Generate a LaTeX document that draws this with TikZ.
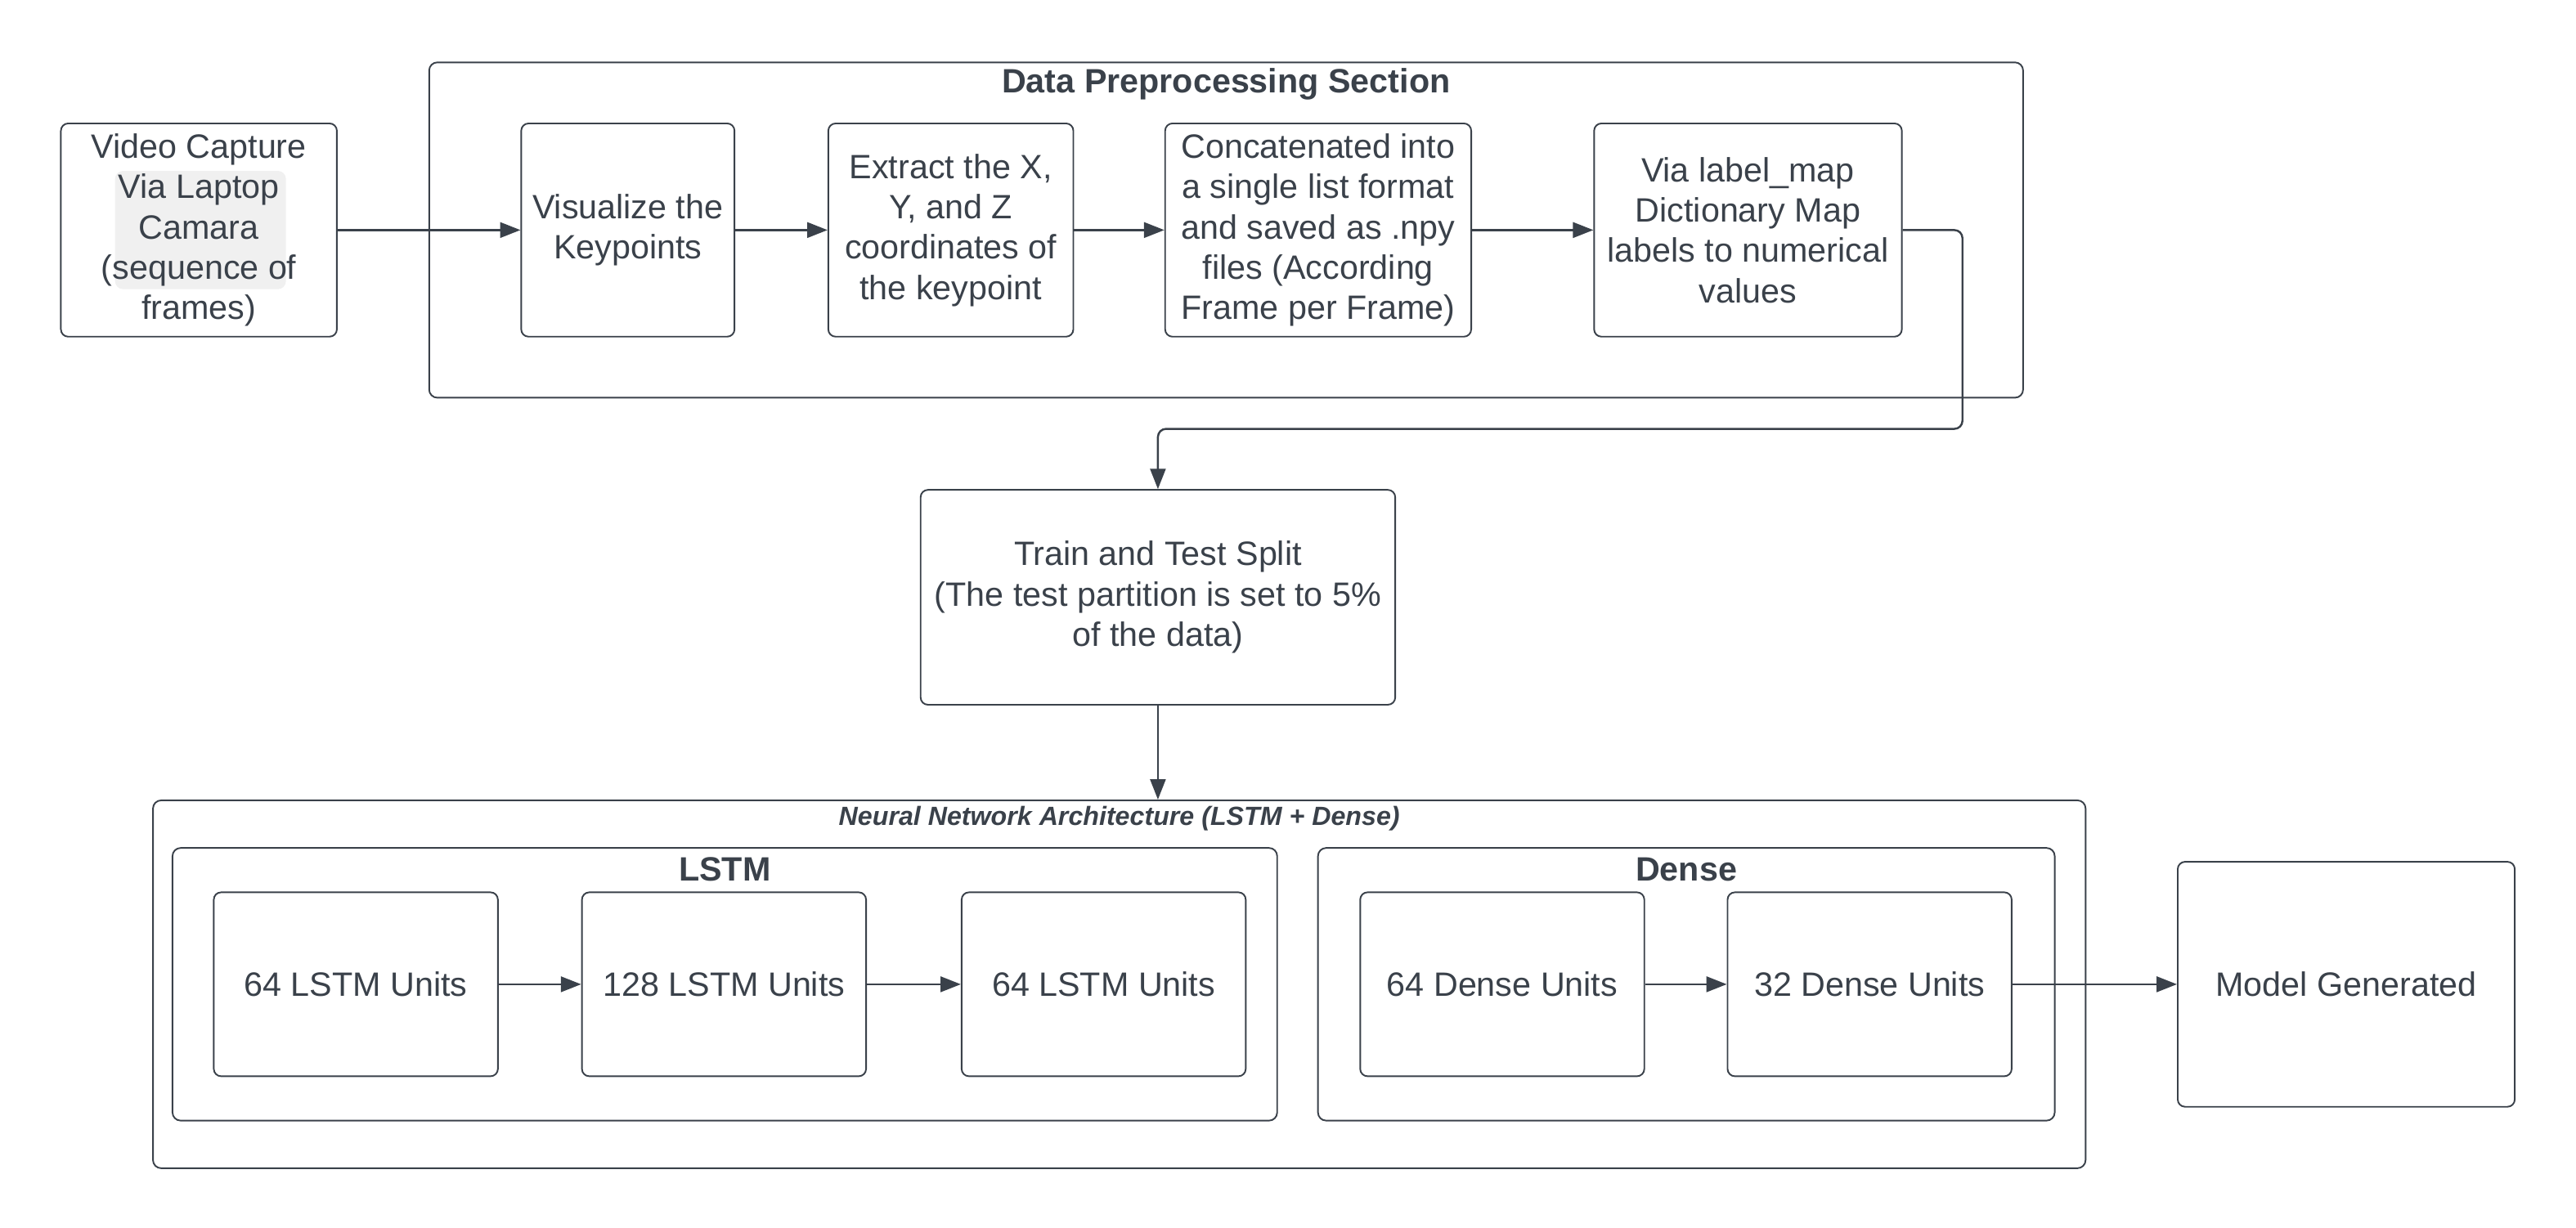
\documentclass[tikz,border=0pt]{standalone}
\usepackage{fontspec}
\setmainfont{Liberation Sans}
\usetikzlibrary{arrows.meta}
\definecolor{ink}{RGB}{58,65,74}
\newcommand{\boxfont}{\fontsize{11.8}{14.1}\selectfont}
\newcommand{\headfont}{\fontsize{11.8}{14.1}\selectfont\bfseries}

\begin{document}
\begin{tikzpicture}
  [x=0.2019mm,y=-0.2019mm,
   every node/.style={text=ink},
   box/.style={draw=ink,line width=0.55pt,rounded corners=0.9mm,align=center,inner sep=0pt,font=\boxfont},
   group/.style={draw=ink,line width=0.55pt,rounded corners=1mm,inner sep=0pt},
   arr/.style={draw=ink,line width=0.7pt,-{Triangle[length=2.5mm,width=1.9mm]}}]
  \useasboundingbox (0,0) rectangle (1567.3,747.3);
  % containers
  \node[group,minimum width=195.8mm,minimum height=41.2mm] (pre) at (746,140) {};
  \node[group,minimum width=237.4mm,minimum height=45.2mm] (nn) at (681,599) {};
  \node[group,minimum width=135.7mm,minimum height=33.5mm] (lstm) at (441,599) {};
  \node[group,minimum width=90.5mm,minimum height=33.5mm] (dense) at (1026,599) {};
  \node[font=\headfont] (pretitle) at (746,51) {Data Preprocessing Section};
  \node[font=\fontsize{9.2}{11}\selectfont\bfseries\itshape] (nntitle) at (681,498) {Neural Network Architecture (LSTM + Dense)};
  \node[font=\headfont] (lstmtitle) at (441,529) {LSTM};
  \node[font=\headfont] (densetitle) at (1026,529) {Dense};
  % highlight behind the camera text
  \fill[black!6,rounded corners=1mm] (70,104) rectangle (174,176);
  % preprocessing row
  \node[box,minimum width=33.9mm,minimum height=26.2mm] (vid) at (121,140) {Video Capture\\Via Laptop\\Camara\\(sequence of\\frames)};
  \node[box,minimum width=26.2mm,minimum height=26.2mm] (vis) at (382,140) {Visualize the\\Keypoints};
  \node[box,minimum width=30.1mm,minimum height=26.2mm] (ext) at (578.5,140) {Extract the X,\\Y, and Z\\coordinates of\\the keypoint};
  \node[box,minimum width=37.6mm,minimum height=26.2mm] (cat) at (802,140) {Concatenated into\\a single list format\\and saved as .npy\\files (According\\Frame per Frame)};
  \node[box,minimum width=37.8mm,minimum height=26.2mm] (lab) at (1063.5,140) {Via label\_map\\Dictionary Map\\labels to numerical\\values};
  % split
  \node[box,minimum width=58.3mm,minimum height=26.4mm] (tts) at (704.5,363.5) {Train and Test Split\\(The test partition is set to 5\%\\of the data)};
  % network
  \node[box,minimum width=34.9mm,minimum height=22.6mm] (l1) at (216.5,599) {64 LSTM Units};
  \node[box,minimum width=34.9mm,minimum height=22.6mm] (l2) at (440.5,599) {128 LSTM Units};
  \node[box,minimum width=34.9mm,minimum height=22.6mm] (l3) at (671.5,599) {64 LSTM Units};
  \node[box,minimum width=34.9mm,minimum height=22.6mm] (d1) at (914,599) {64 Dense Units};
  \node[box,minimum width=34.9mm,minimum height=22.6mm] (d2) at (1137.5,599) {32 Dense Units};
  \node[box,minimum width=41.4mm,minimum height=30.1mm] (mod) at (1427.5,599) {Model Generated};
  \coordinate (bend) at (1194,261);
  \foreach \from/\to in {vid/vis,vis/ext,ext/cat,cat/lab,l1/l2,l2/l3,d1/d2,d2/mod}
    \draw[arr] (\from) -- (\to);
  \draw[arr,rounded corners=1mm] (lab.east) -| (bend) -| (tts.north);
  \draw[arr] (tts.south) -- (tts.south |- nn.north);
\end{tikzpicture}
\end{document}
